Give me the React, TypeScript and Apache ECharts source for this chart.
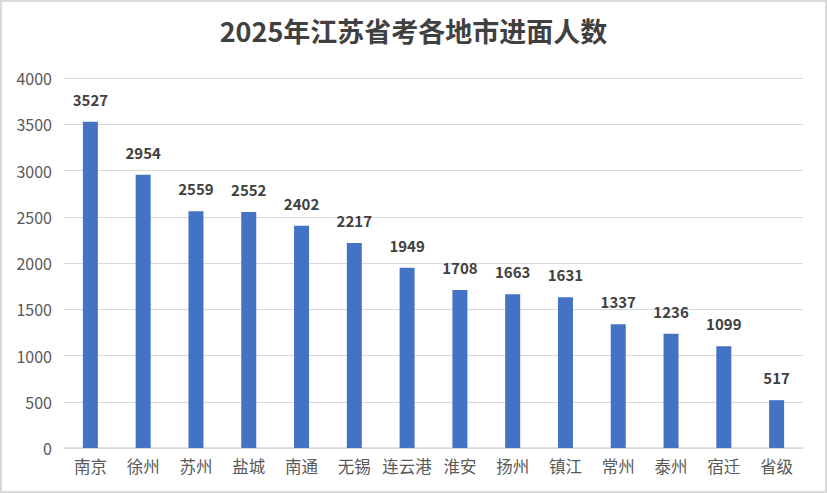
import React, { useEffect, useRef } from "react";
import * as echarts from "echarts";

const categories = ["南京", "徐州", "苏州", "盐城", "南通", "无锡", "连云港", "淮安", "扬州", "镇江", "常州", "泰州", "宿迁", "省级"];
const values = [3527, 2954, 2559, 2552, 2402, 2217, 1949, 1708, 1663, 1631, 1337, 1236, 1099, 517];
const titleText = "2025年江苏省考各地市进面人数";

export default function App() {
  const ref = useRef<HTMLDivElement>(null);
  useEffect(() => {
    if (!ref.current) return;
    const chart = echarts.init(ref.current, undefined, { renderer: "svg" });
    const font = "'Noto Sans CJK SC', 'Microsoft YaHei', sans-serif";
    chart.setOption({
      animation: false,
      backgroundColor: "#ffffff",
      title: {
        text: titleText,
        left: "center",
        top: 10,
        textStyle: { fontSize: 27, fontWeight: "bold", color: "#404040", fontFamily: font },
      },
      grid: { left: 62, right: 22, top: 76, bottom: 43, containLabel: false },
      xAxis: {
        type: "category",
        data: categories,
        axisLine: { lineStyle: { color: "#d9d9d9", width: 1.5 } },
        axisTick: { show: false },
        axisLabel: { color: "#595959", fontSize: 16.5, fontFamily: font, margin: 10, interval: 0 },
      },
      yAxis: {
        type: "value",
        min: 0,
        max: 4000,
        interval: 500,
        axisLine: { show: false },
        axisTick: { show: false },
        splitLine: { lineStyle: { color: "#d9d9d9", width: 1 } },
        axisLabel: {
          color: "#595959",
          fontSize: 16,
          fontFamily: font,
          margin: 12,
          formatter: (v: number) => String(v),
        },
      },
      series: [
        {
          type: "bar",
          data: values,
          barWidth: 15,
          itemStyle: { color: "#4472C4" },
          label: {
            show: true,
            position: "top",
            distance: 15,
            color: "#404040",
            fontSize: 15,
            fontWeight: "bold",
            fontFamily: font,
          },
        },
      ],
    });
    return () => chart.dispose();
  }, []);
  return (
    <div
      style={{
        position: "fixed",
        left: 0,
        top: 0,
        width: 827,
        height: 493,
        boxSizing: "border-box",
        border: "2px solid #d9d9d9",
        background: "#fff",
      }}
    >
      <div ref={ref} style={{ width: 823, height: 489 }} />
    </div>
  );
}
